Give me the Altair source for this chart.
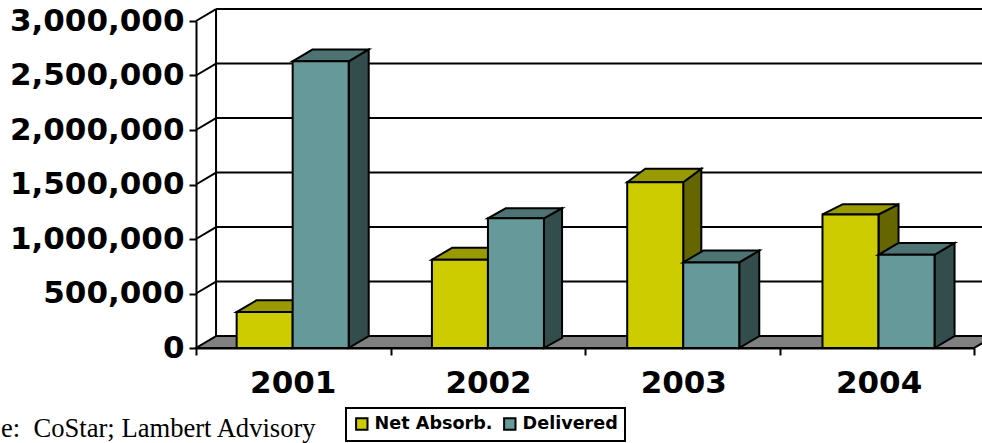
import altair as alt
import pandas as pd

YEARS = ["2001", "2002", "2003", "2004"]
NET_ABSORB = [330000, 810000, 1520000, 1225000]
DELIVERED = [2630000, 1190000, 785000, 855000]
TICKS = [0, 500000, 1000000, 1500000, 2000000, 2500000, 3000000]

Y_MAX = 3000000
# Oblique projection of the chart's depth, expressed in axis units
DEPTH_X = 0.103
DEPTH_Y = 109000
# The receding faces differ slightly from bar to bar
NET_DEPTH = [(0.103, 109000), (0.103, 109000), (0.093, 125000), (0.103, 93000)]
DEL_DEPTH = [(0.103, 109000), (0.093, 93000), (0.103, 109000), (0.103, 109000)]
GROUP_PITCH = 1.004
BAR_START = 0.209
BAR_WIDTH = 0.288

NET_COLORS = {"front": "#CCCC00", "top": "#999900", "side": "#666600"}
DEL_COLORS = {"front": "#669999", "top": "#4D7373", "side": "#334D4D"}
FLOOR_COLOR = "#808080"
LINE = 2

x_scale = alt.Scale(domain=[0, 4], nice=False, zero=False)
y_scale = alt.Scale(domain=[0, Y_MAX], nice=False, zero=False)
x_axis = alt.Axis(
    title=None, values=[0, 1, 2, 3, 4], labels=False, domainColor="black", domainWidth=LINE,
    tickColor="black", tickWidth=LINE, tickSize=7, grid=False, zindex=1,
)
y_axis = alt.Axis(
    title=None, values=TICKS, labelExpr="format(datum.value, ',')", domainColor="black", domainWidth=LINE,
    tickColor="black", tickWidth=LINE, tickSize=7, grid=False, zindex=1,
    labelFont="DejaVu Sans", labelFontWeight="bold", labelFontSize=31, labelColor="black",
    labelPadding=5, labelLimit=300,
)
X = lambda f: alt.X(f, type="quantitative", scale=x_scale, axis=x_axis)
Y = lambda f: alt.Y(f, type="quantitative", scale=y_scale, axis=y_axis)
X2 = lambda f: alt.X2(f)
Y2 = lambda f: alt.Y2(f)


def series_frames(name, values, slot, depths):
    """Front, side and top faces of one series' bars."""
    front, side, top = [], [], []
    for i, v in enumerate(values):
        dx, dy = depths[i]
        xl = i * GROUP_PITCH + BAR_START + slot * BAR_WIDTH
        xr = xl + BAR_WIDTH
        front.append(dict(year=YEARS[i], series=name, xl=xl, xr=xr, base=0, v=v))
        side.append(dict(id=i, x=xr, lo=0, hi=v))
        side.append(dict(id=i, x=xr + dx, lo=dy, hi=v + dy))
        top.append(dict(id=i, y=v, a=xl, b=xr))
        top.append(dict(id=i, y=v + dy, a=xl + dx, b=xr + dx))
    return pd.DataFrame(front), pd.DataFrame(side), pd.DataFrame(top)


def bar_layers(name, values, slot, colors, depths):
    front, side, top = series_frames(name, values, slot, depths)
    side_l = (
        alt.Chart(side)
        .mark_area(color=colors["side"], stroke="black", strokeWidth=LINE, strokeJoin="miter")
        .encode(x=X("x"), y=Y("lo"), y2=Y2("hi"), detail="id:N")
    )
    top_l = (
        alt.Chart(top)
        .mark_area(orient="horizontal", color=colors["top"], stroke="black", strokeWidth=LINE, strokeJoin="miter")
        .encode(y=Y("y"), x=X("a"), x2=X2("b"), detail="id:N")
    )
    front_l = (
        alt.Chart(front)
        .mark_rect(stroke="black", strokeWidth=LINE)
        .encode(
            x=X("xl"),
            x2=X2("xr"),
            y=Y("base"),
            y2=Y2("v"),
            fill=alt.Fill(
                "series:N",
                scale=alt.Scale(domain=["Net Absorb.", "Delivered"], range=[NET_COLORS["front"], DEL_COLORS["front"]]),
                legend=alt.Legend(
                    title=None,
                    orient="none",
                    legendX=150,
                    legendY=387,
                    direction="horizontal",
                    columns=2,
                    symbolType="square",
                    symbolSize=130,
                    symbolStrokeWidth=LINE,
                    symbolStrokeColor="black",
                    symbolOpacity=1,
                    labelFont="DejaVu Sans",
                    labelFontWeight="bold",
                    labelFontSize=17.6,
                    labelColor="black",
                    labelLimit=200,
                    columnPadding=7,
                    padding=7,
                    strokeColor="black",
                    fillColor="white",
                ),
            ),
        )
    )
    return [side_l, top_l, front_l]


# Back wall: gridlines, wall edge, and the receding lines on the side wall
ticks_df = pd.DataFrame({"t": TICKS})
ticks_df["back"] = ticks_df["t"] + DEPTH_Y
ticks_df["x0"] = 0.0
ticks_df["xd"] = DEPTH_X
ticks_df["xe"] = 4 + DEPTH_X

grid = alt.Chart(ticks_df).mark_rule(color="black", strokeWidth=LINE).encode(x=X("xd"), x2=X2("xe"), y=Y("back"))
recede = alt.Chart(ticks_df[ticks_df.t > 0]).mark_rule(color="black", strokeWidth=LINE).encode(
    x=X("x0"), x2=X2("xd"), y=Y("t"), y2=Y2("back")
)
wall = pd.DataFrame({"x": [DEPTH_X], "lo": [DEPTH_Y], "hi": [Y_MAX + DEPTH_Y]})
wall_edge = alt.Chart(wall).mark_rule(color="black", strokeWidth=LINE).encode(x=X("x"), y=Y("lo"), y2=Y2("hi"))

floor_df = pd.DataFrame({"y": [0, DEPTH_Y], "a": [0, DEPTH_X], "b": [4, 4 + DEPTH_X]})
floor = (
    alt.Chart(floor_df)
    .mark_area(orient="horizontal", color=FLOOR_COLOR, stroke="black", strokeWidth=LINE, strokeJoin="miter")
    .encode(y=Y("y"), x=X("a"), x2=X2("b"))
)

years_df = pd.DataFrame({"year": YEARS, "x": [i * GROUP_PITCH + 0.5 for i in range(len(YEARS))]})
year_labels = (
    alt.Chart(years_df)
    .mark_text(font="DejaVu Sans", fontWeight="bold", fontSize=31, color="black", baseline="middle")
    .encode(x=X("x"), y=alt.value(363), text="year:N")
)

source = (
    alt.Chart(pd.DataFrame({"s": ["e:\u00a0\u00a0CoStar; Lambert Advisory"]}))
    .mark_text(font="Liberation Serif", fontSize=26.6, color="black", align="left", baseline="middle")
    .encode(x=alt.value(-195), y=alt.value(408), text="s:N")
)

layers = [grid, wall_edge, recede, floor]
layers += bar_layers("Net Absorb.", NET_ABSORB, 0, NET_COLORS, NET_DEPTH)
layers += bar_layers("Delivered", DELIVERED, 1, DEL_COLORS, DEL_DEPTH)
layers += [year_labels, source]

chart = (
    alt.layer(*layers)
    .properties(
        width=778,
        height=327,
        padding={"left": 196, "top": 21, "right": 8, "bottom": 95},
        autosize=alt.AutoSizeParams(type="none"),
        background="white",
    )
    .configure_view(stroke=None)
    .configure_legend(strokeWidth=LINE)
)

chart.save("out.html", embed_options={"renderer": "svg", "actions": False})
